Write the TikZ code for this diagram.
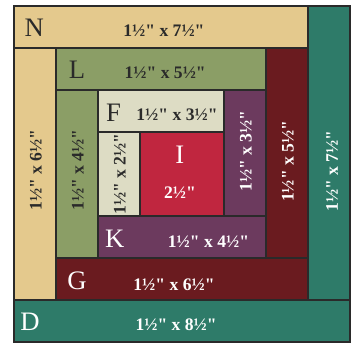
\documentclass[tikz,border=0pt]{standalone}
\usepackage{fontspec}
\newfontfamily\logfont{Liberation Serif}
\usetikzlibrary{positioning}
\definecolor{logtan}{HTML}{E4C98D}
\definecolor{logolive}{HTML}{8B9E66}
\definecolor{logpale}{HTML}{DDDCC4}
\definecolor{logred}{HTML}{C0263F}
\definecolor{logplum}{HTML}{6C3A5E}
\definecolor{logmaroon}{HTML}{6A1B1F}
\definecolor{logteal}{HTML}{2E7B69}
\definecolor{logline}{HTML}{2A2A2A}

\begin{document}
\begin{tikzpicture}[x=31.5pt,y=-31.5pt,
  strip/.style={draw=logline,line width=0.9pt},
  letter/.style={font=\logfont\fontsize{20}{20}\selectfont},
  size/.style={font=\logfont\bfseries\fontsize{13.2}{14}\selectfont},
  vsize/.style={size,rotate=90}]
  \useasboundingbox (-0.333,-0.143) rectangle (8.119,8.024);
  % strips, from the outside in (units = finished inches)
  \filldraw[strip,fill=logtan] (0,0) rectangle (7,1);
  \filldraw[strip,fill=logteal] (7,0) rectangle (8,7);
  \filldraw[strip,fill=logteal] (0,7) rectangle (8,8);
  \filldraw[strip,fill=logtan] (0,1) rectangle (1,7);
  \filldraw[strip,fill=logolive] (1,1) rectangle (6,2);
  \filldraw[strip,fill=logmaroon] (6,1) rectangle (7,6);
  \filldraw[strip,fill=logmaroon] (1,6) rectangle (7,7);
  \filldraw[strip,fill=logolive] (1,2) rectangle (2,6);
  \filldraw[strip,fill=logpale] (2,2) rectangle (5,3);
  \filldraw[strip,fill=logplum] (5,2) rectangle (6,5);
  \filldraw[strip,fill=logplum] (2,5) rectangle (6,6);
  \filldraw[strip,fill=logpale] (2,3) rectangle (3,5);
  \filldraw[strip,fill=logred] (3,3) rectangle (5,5);

  \node[letter,logline] (nlet) at (0.48,0.52) {N};
  \node[size,logline] (nsize) at (3.57,0.58) {1½" x 7½"};
  \node[letter,logline] (llet) at (1.5,1.52) {L};
  \node[size,logline] (lsize) at (3.6,1.6) {1½" x 5½"};
  \node[letter,logline] (flet) at (2.37,2.55) {F};
  \node[size,logline] (fsize) at (3.88,2.6) {1½" x 3½"};
  \node[letter,white] (ilet) at (3.95,3.55) {I};
  \node[size,white] (isize) at (3.95,4.45) {2½"};
  \node[letter,white] (klet) at (2.4,5.55) {K};
  \node[size,white] (ksize) at (4.63,5.6) {1½" x 4½"};
  \node[letter,white] (glet) at (1.5,6.55) {G};
  \node[size,white] (gsize) at (3.81,6.64) {1½" x 6½"};
  \node[letter,white] (dlet) at (0.38,7.52) {D};
  \node[size,white] (dsize) at (3.86,7.58) {1½" x 8½"};

  \node[vsize,logline] (tanv) at (0.52,3.9) {1½" x 6½"};
  \node[vsize,logline] (olivev) at (1.52,3.9) {1½" x 4½"};
  \node[vsize,logline] (palev) at (2.52,4.0) {1½" x 2½"};
  \node[vsize,white] (plumv) at (5.52,3.45) {1½" x 3½"};
  \node[vsize,white] (maroonv) at (6.52,3.7) {1½" x 5½"};
  \node[vsize,white] (tealv) at (7.57,3.93) {1½" x 7½"};
\end{tikzpicture}
\end{document}
